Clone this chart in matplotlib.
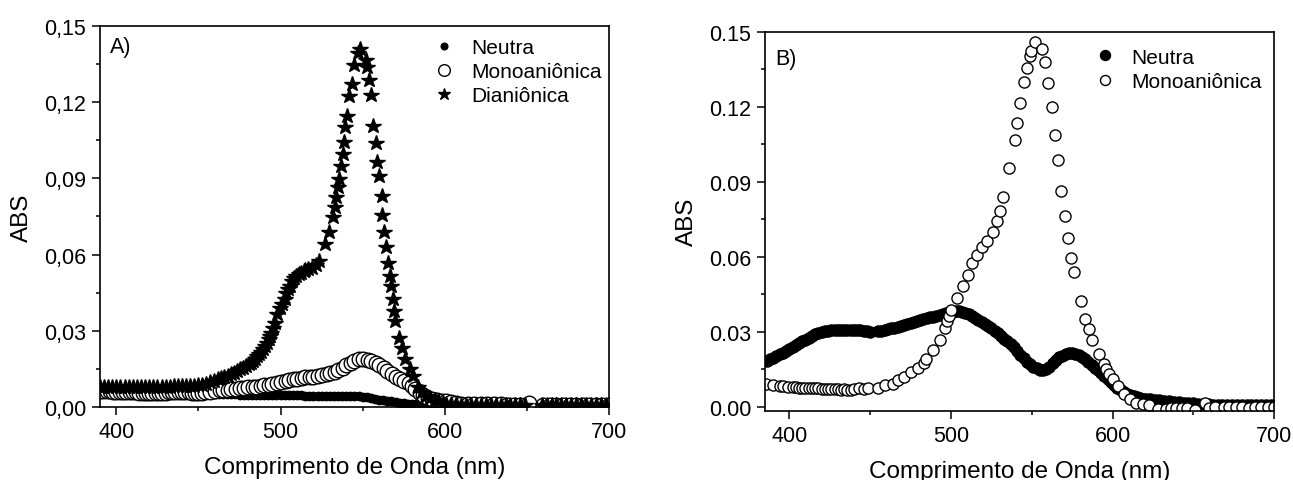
import numpy as np
import matplotlib
matplotlib.use("Agg")
import matplotlib.pyplot as plt
from matplotlib.ticker import MultipleLocator, FuncFormatter

plt.rcParams['font.family'] = ['Liberation Sans', 'DejaVu Sans']

# ---------------- painel A ----------------
# Neutra (A)
xa_neu = np.arange(390, 701, 2.5)
ya_neu = [.0065, .0065, .0064, .0064, .0063, .0063, .0062, .0062, .0061, .0061,
          .0060, .0060, .0059, .0059, .0058, .0058, .0057, .0057, .0056, .0056,
          .0055, .0055, .0054, .0054, .0053, .0053, .0052, .0052, .0051, .0051,
          .0050, .0050, .0049, .0049, .0048, .0048, .0048, .0048, .0047, .0047,
          .0047, .0047, .0047, .0047, .0048, .0048, .0047, .0047, .0046, .0045,
          .0044, .0044, .0043, .0043, .0042, .0042, .0042, .0042, .0043, .0043,
          .0043, .0043, .0042, .0041, .0039, .0037, .0034, .0032, .0029, .0027,
          .0024, .0022, .0019, .0017, .0014, .0012, .0011, .0010, .0009, .0008,
          .0008, .0007, .0007, .0006, .0006, .0006, .0005, .0005, .0005, .0005,
          .0005, .0005, .0005, .0005, .0005, .0005, .0005, .0005, .0005, .0005,
          .0005, .0005, .0005, .0005, .0005, .0005, .0005, .0005, .0005, .0005,
          .0005, .0005, .0005, .0005, .0005, .0005, .0005, .0005, .0005, .0005,
          .0005, .0005, .0005, .0005, .0005]

# Monoanionica (A)
xa_mono = [390, 392, 394, 396, 398, 400, 402, 404, 406, 408, 410, 412, 414, 416,
           418, 420, 422, 424, 426, 428, 430, 432, 434, 436, 438, 440, 442, 444,
           446, 448, 450, 452, 454, 457, 460, 463, 465, 468, 470, 473, 475, 478,
           480, 483, 485, 488, 490, 493, 495, 498, 500, 503, 505, 508, 510, 513,
           515, 518, 520, 523, 525, 528, 530, 533, 535, 538, 540, 543, 545, 548,
           550, 553, 555, 558, 560, 563, 565, 568, 570, 573, 575, 578, 580, 582,
           585, 587, 590, 592, 595, 598, 601, 604, 607, 610, 614, 618, 622, 626,
           630, 634, 638, 642, 646, 651, 660, 664, 668, 672, 676, 680, 684, 688,
           692, 696, 700]
ya_mono = [.0062, .0062, .0061, .0061, .0060, .0060, .0059, .0059, .0058, .0058,
           .0058, .0057, .0056, .0055, .0054, .0053, .0054, .0055, .0055, .0056,
           .0056, .0057, .0057, .0057, .0058, .0058, .0058, .0057, .0056, .0055,
           .0055, .0056, .0057, .0058, .0062, .0066, .0067, .0068, .0070, .0072,
           .0073, .0075, .0077, .0079, .0080, .0082, .0085, .0088, .0091, .0095,
           .0098, .0101, .0104, .0108, .0111, .0114, .0116, .0118, .0119, .0121,
           .0124, .0128, .0132, .0137, .0145, .0154, .0163, .0174, .0181, .0187,
           .0188, .0184, .0180, .0174, .0165, .0154, .0141, .0128, .0118, .0108,
           .0101, .0095, .0083, .0072, .0055, .0046, .0036, .0032, .0029, .0025,
           .0022, .0018, .0015, .0013, .0012, .0011, .0011, .0010, .0010, .0010,
           .0009, .0009, .0009, .0016, .0008, .0008, .0008, .0008, .0008, .0008,
           .0008, .0008, .0008, .0008, .0008]

# Dianionica (A)
xa_dian = [390, 392.5, 395, 397.5, 400, 402.5, 405, 407.5, 410, 412.5, 415, 417.5,
           420, 422.5, 425, 427.5, 430, 432.5, 435, 437.5, 440, 442.5, 445, 447.5,
           450, 452.2, 454.5, 457.1, 459.5, 462.1, 464, 465.8, 467.8, 469.6, 471.5,
           473.3, 475.2, 477, 479, 480.7, 482, 483.2, 484.5, 485.7, 487, 488.2,
           489.5, 490.7, 491.7, 492.7, 493.5, 494.4, 495.6, 496.9, 498.1, 499.4,
           500.8, 502.4, 503.1, 504.3, 505.6, 506.8, 508, 509.3, 511, 512.5, 514,
           515, 517, 519.3, 521.5, 523.5, 527.2, 529.2, 531.7, 533, 533.7, 534.7,
           535.4, 536.9, 537.9, 538.6, 539.4, 540.4, 541.6, 543.4, 544.8, 547,
           548.3, 551.8, 552.8, 554, 554.8, 556.5, 558.3, 559, 560.2, 561.5, 562,
           562.7, 564, 565.2, 566.5, 567.2, 568.2, 569, 569.7, 572.2, 574, 575.7,
           578.9, 580.6, 583.9, 586, 588.8, 591, 593.8, 596, 598.8, 601, 604, 607,
           610, 613, 616, 619, 622, 625, 628, 631, 634, 637, 640, 643, 646, 649,
           659, 662, 665, 668, 671, 674, 677, 680, 683, 686, 689, 692, 695, 698]
ya_dian = [.0079, .0079, .0079, .0079, .0079, .0079, .0079, .0079, .0079, .0079,
           .0079, .0080, .0080, .0080, .0080, .0080, .0080, .0080, .0081, .0081,
           .0081, .0081, .0082, .0083, .0085, .0088, .0092, .0097, .0102, .0108,
           .0113, .0118, .0123, .0128, .0134, .0141, .0148, .0154, .0161, .0167,
           .0174, .0180, .0190, .0200, .0208, .0216, .0228, .0239, .0252, .0266,
           .0279, .0292, .0312, .0332, .0364, .0391, .0407, .0424, .0450, .0463,
           .0476, .0496, .0506, .0516, .0523, .0529, .0536, .0540, .0542, .0545,
           .0558, .0575, .0641, .0687, .0746, .0786, .0825, .0864, .0897, .0950,
           .0995, .1042, .1101, .1145, .1226, .1272, .1347, .1395, .1408, .1364,
           .1338, .1286, .1229, .1105, .1039, .0963, .0910, .0829, .0755, .0687,
           .0628, .0568, .0516, .0476, .0424, .0378, .0338, .0272, .0233, .0187,
           .0150, .0121, .0079, .0060, .0042, .0035, .0029, .0022, .0016, .0013,
           .0011, .0010, .0009, .0009, .0009, .0009, .0009, .0009, .0009, .0009,
           .0009, .0009, .0009, .0009, .0009, .0009, .0008, .0008, .0008, .0008,
           .0008, .0008, .0008, .0008, .0008, .0008, .0008, .0008, .0008, .0008]

# ---------------- painel B ----------------
# Neutra (B)
xb_neu = [386, 388, 390, 392, 394, 396, 398, 400, 402, 404, 406, 408, 410, 412,
          414, 416, 418, 420, 422, 424, 426, 428, 430, 432, 434, 436, 438, 440,
          442, 444, 446, 448, 450, 455, 457, 459, 461, 463, 465, 467, 469, 471,
          473, 475, 477, 479, 481, 483, 485, 487, 489, 491, 493, 495, 497, 499,
          501, 503, 505, 507, 509, 511, 513, 515, 517, 519, 521, 523, 525, 527,
          529, 531, 533, 535, 537, 539, 541, 543, 545, 547, 549, 551, 553, 555,
          557, 559, 561, 563, 565, 567, 569, 571, 573, 575, 577, 579, 581, 583,
          585, 587, 589, 591, 593, 595, 597, 599, 601, 603, 605, 607, 609, 611,
          613, 615, 617, 619, 621, 623, 626, 629, 632, 635, 638, 641, 644, 647,
          650, 653, 656, 659, 662, 665, 668, 671, 674, 677, 680, 683, 686, 689,
          692, 695, 698]
yb_neu = [.0183, .0190, .0196, .0203, .0209, .0215, .0222, .0230, .0237, .0245,
          .0253, .0261, .0268, .0275, .0282, .0289, .0294, .0298, .0301, .0304,
          .0306, .0307, .0307, .0308, .0308, .0308, .0307, .0307, .0306, .0305,
          .0303, .0302, .0300, .0302, .0304, .0307, .0310, .0313, .0316, .0319,
          .0323, .0327, .0331, .0335, .0339, .0343, .0347, .0350, .0354, .0357,
          .0360, .0363, .0367, .0370, .0373, .0377, .0380, .0381, .0381, .0378,
          .0374, .0369, .0362, .0354, .0346, .0338, .0330, .0322, .0314, .0304,
          .0293, .0282, .0272, .0262, .0250, .0237, .0223, .0208, .0193, .0180,
          .0169, .0160, .0153, .0148, .0147, .0151, .0160, .0173, .0187, .0197,
          .0204, .0209, .0213, .0214, .0212, .0207, .0200, .0190, .0178, .0165,
          .0156, .0148, .0136, .0124, .0110, .0097, .0085, .0075, .0066, .0058,
          .0052, .0046, .0041, .0037, .0034, .0032, .0030, .0029, .0028, .0026,
          .0024, .0021, .0020, .0018, .0016, .0015, .0013, .0012, .0010, .0009,
          .0008, .0007, .0007, .0006, .0005, .0005, .0005, .0005, .0005, .0005,
          .0005, .0005, .0005]

# Monoanionica (B)
xb_mono = [385.8, 390, 394, 396, 399, 402, 404, 406, 408, 410, 412, 414, 416,
           418, 420, 422, 424, 426, 428, 430, 432, 434, 436, 438, 440, 443, 446,
           449, 455, 459.5, 463.9, 467, 470.9, 475, 479.4, 483.2, 484.5, 488.9,
           493, 496.1, 497.4, 498.7, 500, 504, 507.2, 510.3, 513.1, 516.2, 519.3,
           522.4, 525.8, 528.4, 530.2, 532.5, 536.1, 539.4, 541.2, 543, 545.1,
           547.2, 549, 549.7, 552.3, 556.4, 558, 560.3, 562.4, 564.4, 566.2,
           568.3, 570.4, 572.4, 574.5, 576.3, 580.4, 583.2, 585.3, 587.4, 591.5,
           594.8, 596.1, 597.9, 600, 603.1, 607, 610.8, 614.7, 618.6, 622.4,
           628.1, 633.2, 636, 639.2, 643, 646, 650.8, 657.2, 660, 663.7, 668.8,
           672, 676.5, 680, 684.3, 688, 692, 696, 700]
yb_mono = [.0089, .0085, .0083, .0082, .0079, .0078, .0077, .0076, .0076, .0075,
           .0075, .0074, .0073, .0073, .0072, .0072, .0070, .0069, .0070, .0069,
           .0068, .0069, .0068, .0068, .0069, .0076, .0070, .0075, .0075, .0085,
           .0091, .0107, .0119, .0140, .0156, .0176, .0190, .0227, .0267, .0316,
           .0343, .0363, .0386, .0436, .0483, .0526, .0574, .0606, .0637, .0661,
           .0699, .0743, .0782, .0837, .0954, .1068, .1134, .1213, .1297, .1355,
           .1401, .1424, .1460, .1431, .1377, .1293, .1200, .1086, .0986, .0863,
           .0761, .0673, .0593, .0537, .0423, .0352, .0310, .0267, .0210, .0170,
           .0150, .0130, .0112, .0083, .0049, .0032, .0016, .0012, .0005, -.0008,
           -.0008, -.0006, -.0004, -.0004, -.0006, -.0013, .0013, -.0004, .0000,
           .0000, -.0002, .0000, -.0003, -.0004, -.0002, .0000, -.0003, .0000]

xticks = [400, 500, 600, 700]
yticks = [0.00, 0.03, 0.06, 0.09, 0.12, 0.15]

fig = plt.figure(figsize=(12.93, 4.81), dpi=100)
axA = fig.add_axes([0.0773, 0.152, 0.3937, 0.792])
axB = fig.add_axes([0.5917, 0.144, 0.3937, 0.788])


def estilo(ax, sep):
    ax.set_xticks(xticks)
    ax.set_yticks(yticks)
    ax.xaxis.set_minor_locator(MultipleLocator(50))
    ax.yaxis.set_minor_locator(MultipleLocator(0.015))
    ax.yaxis.set_major_formatter(
        FuncFormatter(lambda v, p: f"{v:.2f}".replace('.', sep)))
    ax.tick_params(which='both', direction='out', top=False, right=False,
                   labelsize=15.5, width=1.1, colors='black')
    ax.tick_params(which='major', length=6, pad=4)
    ax.tick_params(which='minor', length=3)
    for s in ax.spines.values():
        s.set_linewidth(1.2)
    ax.set_xlabel('Comprimento de Onda (nm)', fontsize=17.5, labelpad=10)
    ax.set_ylabel('ABS', fontsize=17.5, labelpad=8)


#grafico A
axA.plot(xa_neu, ya_neu, ls='', marker='o', ms=6, color='black',
         label='Neutra')
axA.plot(xa_mono, ya_mono, ls='', marker='o', ms=10.5, mfc='white',
         mec='black', mew=1, label='Monoaniônica')
axA.plot(xa_dian, ya_dian, ls='', marker='*', ms=11.5, color='black',
         label='Dianiônica')
axA.set_xlim(390, 700)
axA.set_ylim(0, 0.15)
estilo(axA, ',')
axA.text(0.02, 0.945, 'A)', transform=axA.transAxes, fontsize=15.5,
         va='center', ha='left')
axA.legend(loc='upper left', bbox_to_anchor=(0.64, 0.99), frameon=False,
           fontsize=15, handlelength=1.0, handletextpad=0.8,
           labelspacing=0.25, borderaxespad=0, markerscale=0.8)

#grafico B
axB.plot(xb_neu, yb_neu, ls='', marker='o', ms=8, color='black',
         label='Neutra')
axB.plot(xb_mono, yb_mono, ls='', marker='o', ms=8, mfc='white',
         mec='black', mew=1, label='Monoaniônica')
axB.set_xlim(385, 700)
axB.set_ylim(-0.0016, 0.15)
estilo(axB, '.')
axB.text(0.02, 0.93, 'B)', transform=axB.transAxes, fontsize=15.5,
         va='center', ha='left')
axB.legend(loc='upper left', bbox_to_anchor=(0.63, 0.98), frameon=False,
           fontsize=15, handlelength=1.0, handletextpad=0.8,
           labelspacing=0.25, borderaxespad=0, markerscale=0.9)

fig.savefig('out.png', dpi=100)
